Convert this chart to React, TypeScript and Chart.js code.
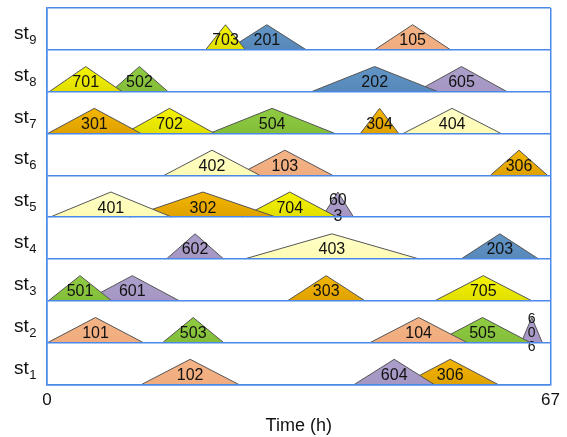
import React, { useEffect, useRef } from "react";
import { Chart, registerables } from "chart.js";

Chart.register(...registerables);

// ---- data ----
const stationNumbers = ["1", "2", "3", "4", "5", "6", "7", "8", "9"];
const stationPrefix = "st";
const xTickValues = [0, 67];
const xMin = 0;
const xMax = 67;
const axisTitle = "Time (h)";

// task label (display text), station (1-9), start and end time (h)
const taskText = [
  "703", "201", "105",
  "701", "502", "202", "605",
  "301", "702", "504", "304", "404",
  "402", "103", "306",
  "401", "302", "704", "60\n3",
  "602", "403", "203",
  "501", "601", "303", "705",
  "101", "503", "104", "505", "6\n0\n6",
  "102", "604", "306",
];
const taskStation = [
  9, 9, 9,
  8, 8, 8, 8,
  7, 7, 7, 7, 7,
  6, 6, 6,
  5, 5, 5, 5,
  4, 4, 4,
  3, 3, 3, 3,
  2, 2, 2, 2, 2,
  1, 1, 1,
];
const taskStart = [
  21.1, 24.0, 43.6,
  0.3, 8.5, 35.2, 49.1,
  0.1, 10.3, 21.6, 41.7, 47.4,
  15.6, 25.3, 59.0,
  0.4, 11.0, 26.0, 36.6,
  15.9, 26.3, 55.1,
  0.2, 5.1, 32.0, 51.6,
  0.1, 15.4, 43.0, 51.6, 63.1,
  12.6, 40.9, 47.3,
];
const taskEnd = [
  26.4, 34.5, 53.7,
  10.0, 16.1, 52.0, 61.2,
  12.5, 22.3, 38.3, 46.8, 60.4,
  28.3, 38.0, 66.6,
  16.6, 30.5, 38.6, 40.8,
  23.5, 49.5, 65.4,
  8.6, 17.6, 42.3, 64.5,
  12.8, 23.5, 55.9, 64.3, 65.9,
  25.5, 51.5, 60.0,
];

// ---- style ----
const PEAK = 0.6;
const LABEL_OFFSET = 0.215;
const ST_OFFSET = 0.26;
const FONT = "'Liberation Sans', Arial, sans-serif";
const BLUE = "#4A89E8";
const familyTop: Record<string, string> = {
  "1": "#F4B386", "2": "#6195C6", "3": "#F4B600", "4": "#FFFFC6",
  "5": "#8FCB42", "6": "#AC9ECB", "7": "#F4F400",
};
const familyBottom: Record<string, string> = {
  "1": "#F0AC7E", "2": "#5888BA", "3": "#DFA100", "4": "#FFFBB4",
  "5": "#84BE3A", "6": "#A596C4", "7": "#E2DE00",
};

function fillFor(chart: any, fam: string, base: number) {
  const area = chart.chartArea;
  const y = chart.scales?.y;
  if (!area || !y) return familyTop[fam];
  const y0 = y.getPixelForValue(base);
  const y1 = y.getPixelForValue(base + PEAK);
  if (!isFinite(y0) || !isFinite(y1)) return familyTop[fam];
  const g = chart.ctx.createLinearGradient(0, y1, 0, y0);
  g.addColorStop(0, familyTop[fam]);
  g.addColorStop(1, familyBottom[fam]);
  return g;
}

const taskLabelPlugin = {
  id: "taskLabels",
  afterDatasetsDraw(chart: any) {
    const { ctx, scales } = chart;
    ctx.save();
    ctx.fillStyle = "#111";
    ctx.textAlign = "center";
    ctx.textBaseline = "middle";
    taskText.forEach((t, i) => {
      const lines = t.split("\n");
      const size = lines.length > 2 ? 14 : 16;
      const lh = lines.length > 2 ? 14 : 16;
      ctx.font = `${size}px ${FONT}`;
      const cx = scales.x.getPixelForValue((taskStart[i] + taskEnd[i]) / 2);
      const cy = scales.y.getPixelForValue(taskStation[i] - 1 + LABEL_OFFSET);
      lines.forEach((ln, k) => {
        ctx.fillText(ln, cx, cy + (k - (lines.length - 1) / 2) * lh);
      });
    });
    ctx.restore();
  },
};

const stationLabelPlugin = {
  id: "stationLabels",
  afterDraw(chart: any) {
    const { ctx, scales, chartArea } = chart;
    ctx.save();
    ctx.fillStyle = "#111";
    ctx.textAlign = "left";
    ctx.textBaseline = "alphabetic";
    stationNumbers.forEach((n, i) => {
      const py = scales.y.getPixelForValue(i + ST_OFFSET);
      const x0 = chartArea.left - 33;
      ctx.font = `19px ${FONT}`;
      ctx.fillText(stationPrefix, x0, py);
      const w = ctx.measureText(stationPrefix).width;
      ctx.font = `13px ${FONT}`;
      ctx.fillText(n, x0 + w + 0.5, py + 5);
    });
    ctx.restore();
  },
};

export default function App() {
  const ref = useRef<HTMLCanvasElement>(null);
  useEffect(() => {
    if (!ref.current) return;
    const datasets = taskText.map((t, i) => {
      const base = taskStation[i] - 1;
      const mid = (taskStart[i] + taskEnd[i]) / 2;
      const fam = t.charAt(0);
      return {
        label: t,
        data: [
          { x: taskStart[i], y: base },
          { x: mid, y: base + PEAK },
          { x: taskEnd[i], y: base },
        ],
        borderColor: "#555555",
        borderWidth: 1,
        backgroundColor: (c: any) => fillFor(c.chart, fam, base),
        fill: { value: base },
        pointRadius: 0,
        tension: 0,
      };
    });
    const chart = new Chart(ref.current, {
      type: "line",
      data: { datasets },
      options: {
        animation: false,
        responsive: true,
        maintainAspectRatio: false,
        layout: { padding: { left: 47, top: 8, right: 16, bottom: 0 } },
        plugins: { legend: { display: false }, tooltip: { enabled: false } },
        scales: {
          x: {
            type: "linear",
            min: xMin,
            max: xMax,
            afterBuildTicks: (axis: any) => {
              axis.ticks = xTickValues.map((v) => ({ value: v }));
            },
            ticks: {
              color: "#111",
              font: { family: FONT, size: 17, lineHeight: 1 },
              padding: 7,
              maxRotation: 0,
              autoSkip: false,
            },
            grid: { color: BLUE, lineWidth: 1.5, drawTicks: false, z: 1 },
            border: { color: BLUE, width: 1.5, z: 1 },
            title: {
              display: true,
              text: axisTitle,
              color: "#111",
              font: { family: FONT, size: 18 },
              padding: { top: 0, bottom: 0 },
            },
          },
          y: {
            type: "linear",
            min: 0,
            max: 9,
            ticks: { stepSize: 1, display: false },
            grid: { color: BLUE, lineWidth: 1.5, drawTicks: false, z: 1 },
            border: { color: BLUE, width: 1.5, z: 1 },
          },
        },
      },
      plugins: [taskLabelPlugin, stationLabelPlugin],
    });
    return () => chart.destroy();
  }, []);
  return (
    <div style={{ position: "fixed", left: 0, top: 0, width: 567, height: 437, background: "#fff" }}>
      <canvas ref={ref} />
    </div>
  );
}
